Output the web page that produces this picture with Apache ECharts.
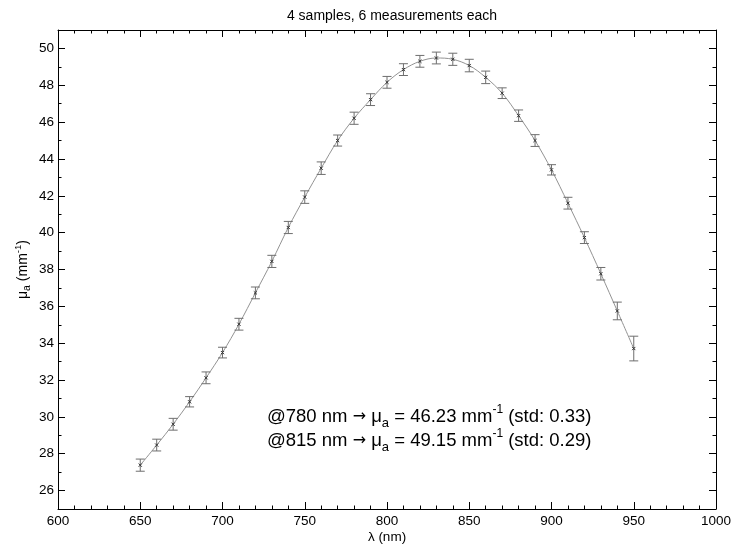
<!DOCTYPE html>
<html>
<head>
<meta charset="utf-8">
<script src="https://cdn.jsdelivr.net/npm/echarts@6/dist/echarts.min.js"></script>
<style>html,body{margin:0;padding:0;background:#fff;}#c{width:732px;height:544px;}</style>
</head>
<body>
<div id="c"></div>
<script>
// ---- data ----
const lambdaNm = [650, 660, 670, 680, 690, 700, 710, 720, 730, 740, 750, 760, 770, 780, 790, 800,
                  810, 820, 830, 840, 850, 860, 870, 880, 890, 900, 910, 920, 930, 940, 950];
const muA = [27.38, 28.47, 29.60, 30.82, 32.12, 33.49, 35.03, 36.73, 38.44, 40.28, 41.93, 43.50,
             45.00, 46.21, 47.22, 48.16, 48.85, 49.30, 49.48, 49.41, 49.07, 48.43, 47.57, 46.35,
             45.00, 43.41, 41.60, 39.73, 37.77, 35.75, 33.71];
const muStd = [0.33, 0.32, 0.32, 0.28, 0.32, 0.29, 0.32, 0.32, 0.33, 0.33, 0.34, 0.34, 0.30, 0.33,
               0.32, 0.32, 0.32, 0.32, 0.32, 0.33, 0.34, 0.34, 0.29, 0.31, 0.32, 0.28, 0.32, 0.32,
               0.34, 0.48, 0.67];
const xMajorTicks = [600, 650, 700, 750, 800, 850, 900, 950, 1000];
const xMinorTicks = [610, 620, 630, 640, 660, 670, 680, 690, 710, 720, 730, 740, 760, 770, 780, 790,
                     810, 820, 830, 840, 860, 870, 880, 890, 910, 920, 930, 940, 960, 970, 980, 990];
const yMajorTicks = [26, 28, 30, 32, 34, 36, 38, 40, 42, 44, 46, 48, 50];
const yMinorTicks = [27, 29, 31, 33, 35, 37, 39, 41, 43, 45, 47, 49];
const titleText = '4 samples, 6 measurements each';
const annot1 = ['@780 nm ', '\u2192', ' \u03bc', 'a', ' = 46.23 mm', '-1', ' (std: 0.33)'];
const annot2 = ['@815 nm ', '\u2192', ' \u03bc', 'a', ' = 49.15 mm', '-1', ' (std: 0.29)'];

const FONT = '"Liberation Sans", Arial, Helvetica, sans-serif';
const chart = echarts.init(document.getElementById('c'), null, {renderer: 'canvas'});

function xAxisDef(pos, withLabels, ticks, len, showLine) {
  return {
    type: 'value', position: pos, min: 600, max: 1000,
    axisLine: {show: showLine, onZero: false, lineStyle: {color: '#000', width: 1}},
    axisTick: {show: true, inside: true, length: len, customValues: ticks, lineStyle: {color: '#000'}},
    axisLabel: withLabels ? {show: true, customValues: xMajorTicks, formatter: v => String(v), color: '#000', fontFamily: FONT, fontSize: 13.5, margin: 5} : {show: false},
    splitLine: {show: false},
    name: withLabels ? '\u03bb (nm)' : '',
    nameLocation: 'middle', nameGap: 21, nameMoveOverlap: false,
    nameTextStyle: {color: '#000', fontFamily: FONT, fontSize: 13.5}
  };
}
function yAxisDef(pos, withLabels, ticks, len, showLine) {
  return {
    type: 'value', position: pos, min: 25, max: 51,
    axisLine: {show: showLine, onZero: false, lineStyle: {color: '#000', width: 1}},
    axisTick: {show: true, inside: true, length: len, customValues: ticks, lineStyle: {color: '#000'}},
    axisLabel: withLabels ? {show: true, customValues: yMajorTicks, color: '#000', fontFamily: FONT, fontSize: 13.5, margin: 4} : {show: false},
    splitLine: {show: false},
    name: withLabels ? '{m|\u03bc}{sub|a}{m| (mm}{sup|-1}{m|)}' : '',
    nameLocation: 'middle', nameGap: 25, nameRotate: 90, nameMoveOverlap: false,
    nameTextStyle: {
      color: '#000', fontFamily: FONT, fontSize: 14,
      rich: {
        m: {fontFamily: FONT, fontSize: 14, color: '#000', lineHeight: 20, verticalAlign: 'middle'},
        sub: {fontFamily: FONT, fontSize: 10.5, color: '#000', lineHeight: 10, verticalAlign: 'bottom'},
        sup: {fontFamily: FONT, fontSize: 9.5, color: '#000', lineHeight: 13, verticalAlign: 'top'}
      }
    }
  };
}

function annotText(parts, y) {
  return {
    type: 'text', left: 267, top: y, z: 100,
    style: {
      text: '{m|' + parts[0] + '}{ar|' + parts[1] + '}{m|' + parts[2] + '}{sub|' + parts[3] + '}{m|' + parts[4] + '}{sup|' + parts[5] + '}{m|' + parts[6] + '}',
      fill: '#000',
      rich: {
        m: {fontFamily: FONT, fontSize: 18.5, fill: '#000', lineHeight: 26, verticalAlign: 'middle'},
        ar: {fontFamily: '"DejaVu Sans", sans-serif', fontSize: 16, fill: '#000', lineHeight: 26, verticalAlign: 'middle'},
        sub: {fontFamily: FONT, fontSize: 13, fill: '#000', lineHeight: 12, verticalAlign: 'bottom'},
        sup: {fontFamily: FONT, fontSize: 12, fill: '#000', lineHeight: 17, verticalAlign: 'top'}
      }
    }
  };
}

const lineData = lambdaNm.map((l, i) => [l, muA[i]]);
const errData = lambdaNm.map((l, i) => [l, muA[i], muStd[i]]);

chart.setOption({
  backgroundColor: '#fff',
  animation: false,
  title: {
    text: titleText, left: 387, top: 4, textAlign: 'center',
    textStyle: {color: '#000', fontFamily: FONT, fontSize: 14, fontWeight: 'normal'}
  },
  grid: {left: 58, right: 16, top: 30, bottom: 35, containLabel: false, outerBoundsMode: 'none'},
  xAxis: [
    xAxisDef('bottom', true, xMajorTicks, 7, true),
    xAxisDef('bottom', false, xMinorTicks, 3.5, false),
    xAxisDef('top', false, xMajorTicks, 7, true),
    xAxisDef('top', false, xMinorTicks, 3.5, false)
  ],
  yAxis: [
    yAxisDef('left', true, yMajorTicks, 7, true),
    yAxisDef('left', false, yMinorTicks, 3.5, false),
    yAxisDef('right', false, yMajorTicks, 7, true),
    yAxisDef('right', false, yMinorTicks, 3.5, false)
  ],
  series: [
    {
      type: 'line', data: lineData, smooth: 0.35, showSymbol: false,
      lineStyle: {color: '#939393', width: 1}, z: 2
    },
    {
      type: 'custom', data: errData, z: 3,
      renderItem: function (params, api) {
        const x = api.value(0), y = api.value(1), e = api.value(2);
        const p = api.coord([x, y]);
        const hi = api.coord([x, y + e]);
        const lo = api.coord([x, y - e]);
        const cw = 4.5, m = 1.6;
        const st = {stroke: '#6e6e6e', lineWidth: 1};
        const ms = {stroke: '#333', lineWidth: 1};
        return {
          type: 'group',
          children: [
            {type: 'line', shape: {x1: p[0], y1: lo[1], x2: p[0], y2: hi[1]}, style: st},
            {type: 'line', shape: {x1: p[0] - cw, y1: hi[1], x2: p[0] + cw, y2: hi[1]}, style: st},
            {type: 'line', shape: {x1: p[0] - cw, y1: lo[1], x2: p[0] + cw, y2: lo[1]}, style: st},
            {type: 'line', shape: {x1: p[0] - m, y1: p[1] - m, x2: p[0] + m, y2: p[1] + m}, style: ms},
            {type: 'line', shape: {x1: p[0] - m, y1: p[1] + m, x2: p[0] + m, y2: p[1] - m}, style: ms}
          ]
        };
      }
    }
  ],
  graphic: [annotText(annot1, 404), annotText(annot2, 428)]
});
</script>
</body>
</html>
